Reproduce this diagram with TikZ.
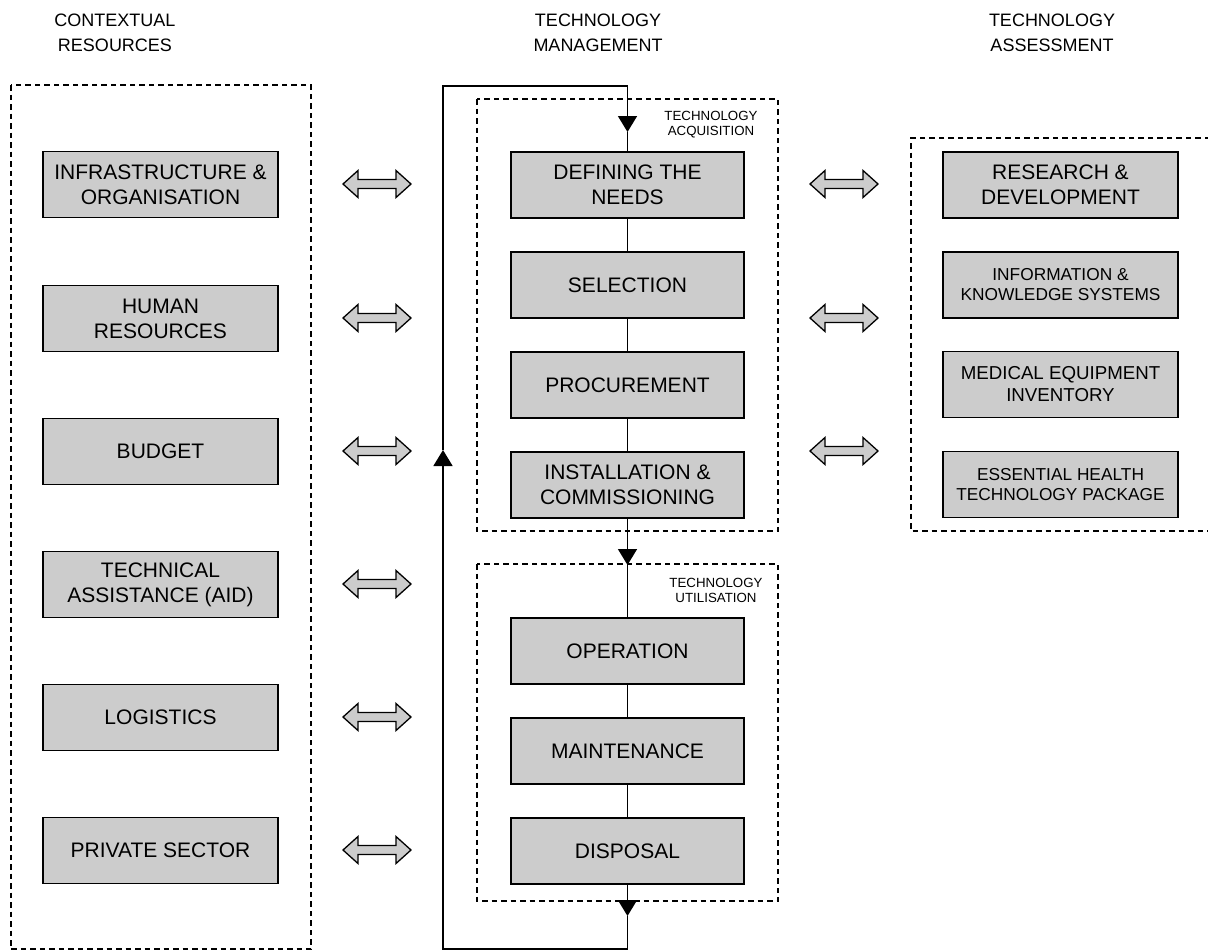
\documentclass[tikz,border=0pt]{standalone}
\usepackage{fontspec}
\setmainfont{Liberation Sans}
\usetikzlibrary{arrows.meta}
\definecolor{boxgray}{RGB}{204,204,204}
\begin{document}
\begin{tikzpicture}[x=1pt,y=-1pt,
  box/.style={draw=black, line width=1.5pt, fill=boxgray, minimum width=235pt, minimum height=66pt,
    inner sep=0pt, align=center, font=\fontsize{21}{25}\selectfont},
  midbox/.style={box, minimum width=233pt},
  smallbox/.style={box, font=\fontsize{17.3}{20}\selectfont},
  medbox/.style={box, font=\fontsize{18.7}{22}\selectfont},
  heading/.style={align=center, font=\fontsize{18}{25}\selectfont, inner sep=0pt},
  tag/.style={align=center, font=\fontsize{13.3}{15.5}\selectfont, inner sep=0pt},
  group/.style={draw=black, line width=1.2pt, dash pattern=on 5.5pt off 4pt},
  link/.style={draw=black, line width=1.2pt},
  loopline/.style={draw=black, line width=1.6pt},
  tip/.style={-{Triangle[width=19pt,length=16pt]}},
  dbl/.pic={\draw[fill=boxgray, line width=1.3pt, line join=miter]
     (-34,0) -- (-19,-13.5) -- (-19,-4.5) -- (19,-4.5) -- (19,-13.5) -- (34,0)
     -- (19,13.5) -- (19,4.5) -- (-19,4.5) -- (-19,13.5) -- cycle;}
]
\useasboundingbox (0,0) rectangle (1208,951);

% headings
\node[heading] (h1) at (115,33) {CONTEXTUAL\\RESOURCES};
\node[heading] (h2) at (598,33) {TECHNOLOGY\\MANAGEMENT};
\node[heading] (h3) at (1052,33) {TECHNOLOGY\\ASSESSMENT};

% group frames
\draw[group] (11,85) rectangle (311,949);
\draw[group] (477,99) rectangle (778,531);
\draw[group] (477,564) rectangle (778,901);
\draw[group] (1210,138) -- (911,138) -- (911,531) -- (1210,531);

% left column
\node[box] (infra) at (160.5,184.5) {INFRASTRUCTURE \&\\ORGANISATION};
\node[box] (human) at (160.5,318.5) {HUMAN\\RESOURCES};
\node[box] (budget) at (160.5,451.5) {BUDGET};
\node[box] (techaid) at (160.5,584.5) {TECHNICAL\\ASSISTANCE (AID)};
\node[box] (logist) at (160.5,717.5) {LOGISTICS};
\node[box] (private) at (160.5,850.5) {PRIVATE SECTOR};

% middle column
\node[midbox] (needs) at (627.5,185) {DEFINING THE\\NEEDS};
\node[midbox] (select) at (627.5,285) {SELECTION};
\node[midbox] (procure) at (627.5,385) {PROCUREMENT};
\node[midbox] (install) at (627.5,485) {INSTALLATION \&\\COMMISSIONING};
\node[midbox] (operate) at (627.5,651) {OPERATION};
\node[midbox] (maint) at (627.5,751) {MAINTENANCE};
\node[midbox] (dispose) at (627.5,851) {DISPOSAL};

% right column
\node[box] (rnd) at (1060.5,185) {RESEARCH \&\\DEVELOPMENT};
\node[smallbox] (info) at (1060.5,285) {INFORMATION \&\\KNOWLEDGE SYSTEMS};
\node[medbox] (medeq) at (1060.5,384.5) {MEDICAL EQUIPMENT\\INVENTORY};
\node[smallbox] (ehtp) at (1060.5,484.5) {ESSENTIAL HEALTH\\TECHNOLOGY PACKAGE};

% group tags
\node[tag] (acq) at (711,124.5) {TECHNOLOGY\\ACQUISITION};
\node[tag] (util) at (716,590.5) {TECHNOLOGY\\UTILISATION};

% links inside groups
\draw[link] (needs) -- (select);
\draw[link] (select) -- (procure);
\draw[link] (procure) -- (install);
\draw[link] (operate) -- (maint);
\draw[link] (maint) -- (dispose);

% flow loop
\coordinate (tA) at (627.5,132);
\coordinate (tB) at (627.5,565);
\coordinate (tC) at (627.5,916);
\coordinate (bR) at (627.5,949);
\coordinate (bL) at (443,949);
\coordinate (tL) at (443,450);
\coordinate (topL) at (443,86);
\coordinate (topR) at (627.5,86);
\draw[loopline, tip] (topR) -- (tA);
\draw[loopline] (tA) -- (needs.north);
\draw[loopline, tip] (install.south) -- (tB);
\draw[loopline] (tB) -- (operate.north);
\draw[loopline, tip] (dispose.south) -- (tC);
\draw[loopline, tip] (tC) -- (bR) -- (bL) -- (tL);
\draw[loopline] (tL) -- (topL) -- (topR);

% double arrows
\foreach \yy in {184,318,451,584,717,850} { \pic at (377,\yy) {dbl}; }
\foreach \yy in {184,318,451} { \pic at (844,\yy) {dbl}; }
\end{tikzpicture}
\end{document}
